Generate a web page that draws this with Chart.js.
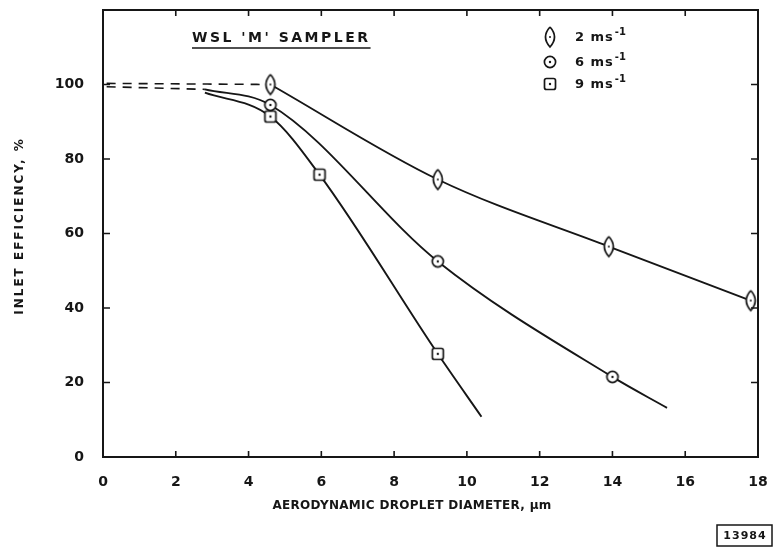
<!DOCTYPE html>
<html lang="en">
<head>
<meta charset="UTF-8">
<title>WSL 'M' Sampler - inlet efficiency</title>
<script src="https://cdn.jsdelivr.net/npm/chart.js"></script>
<style>
    html, body { margin: 0; padding: 0; background: #fff; }
</style>
</head>
<body>
<canvas id="chart" width="774" height="551"></canvas>
<script>
// measured points (aerodynamic droplet diameter in um, inlet efficiency in %)
const diam2 = [4.6, 9.2, 13.9, 17.8];
const eff2 = [100, 74.5, 56.5, 42];
const diam6 = [4.6, 9.2, 14.0];
const eff6 = [94.5, 52.5, 21.5];
const diam9 = [4.6, 5.95, 9.2];
const eff9 = [91.4, 75.8, 27.7];

// hand-drawn fitted curves
const curve6X = [2.8, 4.6, 9.2, 14.0, 15.5];
const curve6Y = [98.7, 94.5, 52.5, 21.5, 13.2];
const curve9X = [2.8, 4.6, 5.95, 9.2, 10.4];
const curve9Y = [97.8, 91.4, 75.8, 27.7, 10.8];

// dashed extrapolation back to small droplets
const dashTopX = [0.1, 4.6];
const dashTopY = [100.3, 100];
const dashLowX = [0.1, 2.8];
const dashLowY = [99.4, 98.7];

const xTicks = [0, 2, 4, 6, 8, 10, 12, 14, 16, 18];
const yTicks = [0, 20, 40, 60, 80, 100];

const seriesLabels = ['2 ms', '6 ms', '9 ms'];

const INK = '#161616';
const FONT = "'DejaVu Sans', sans-serif";

const pts = (xs, ys) => xs.map((x, i) => ({ x: x, y: ys[i] }));

// little marker sprites
function sprite(w, h, draw) {
    const c = document.createElement('canvas');
    c.width = w; c.height = h;
    const g = c.getContext('2d');
    g.strokeStyle = INK;
    g.fillStyle = '#fff';
    g.lineWidth = 1.7;
    draw(g, w / 2, h / 2);
    return c;
}
const lensMark = sprite(14, 24, (g, cx, cy) => {
    g.beginPath();
    g.moveTo(cx, 2);
    g.quadraticCurveTo(cx + 9, cy, cx, 22);
    g.quadraticCurveTo(cx - 9, cy, cx, 2);
    g.fill(); g.stroke();
    g.fillStyle = INK;
    g.beginPath(); g.arc(cx, cy, 1, 0, Math.PI * 2); g.fill();
});
const circleMark = sprite(16, 16, (g, cx, cy) => {
    g.beginPath(); g.arc(cx, cy, 5.6, 0, Math.PI * 2);
    g.fill(); g.stroke();
    g.fillStyle = INK;
    g.beginPath(); g.arc(cx, cy, 1.2, 0, Math.PI * 2); g.fill();
});
const squareMark = sprite(16, 16, (g, cx, cy) => {
    g.beginPath(); g.roundRect(2.5, 2.5, 11, 11, 2);
    g.fill(); g.stroke();
    g.fillStyle = INK;
    g.beginPath(); g.arc(cx, cy, 1.2, 0, Math.PI * 2); g.fill();
});
const marks = [lensMark, circleMark, squareMark];

function lineSet(data, dashed) {
    return {
        data: data,
        showLine: true,
        borderColor: INK,
        borderWidth: dashed ? 1.6 : 1.9,
        borderDash: dashed ? [9, 7] : [],
        pointRadius: 0,
        cubicInterpolationMode: 'monotone'
    };
}
function markSet(data, mark) {
    return {
        data: data,
        showLine: false,
        pointStyle: mark,
        pointRadius: 6,
        clip: 0
    };
}

// scales keep exactly the box they are given, no room reserved for overhanging labels
function fixBox(s, size) {
    if (s.isHorizontal()) s.height = size; else s.width = size;
    s.paddingTop = 0; s.paddingBottom = 0;
    s.paddingLeft = 0; s.paddingRight = 0;
}

// frame, inward ticks, titles, key and drawing number
const decorations = {
    id: 'decorations',
    afterDraw(chart) {
        const ctx = chart.ctx;
        const { left, right, top, bottom } = chart.chartArea;
        const xs = chart.scales.x, ys = chart.scales.y;
        ctx.save();
        ctx.strokeStyle = INK;
        ctx.fillStyle = INK;
        ctx.lineWidth = 2;
        ctx.strokeRect(left, top, right - left, bottom - top);

        ctx.lineWidth = 1.6;
        ctx.beginPath();
        xTicks.slice(1, -1).forEach(v => {
            const px = xs.getPixelForValue(v);
            ctx.moveTo(px, bottom); ctx.lineTo(px, bottom - 6);
            ctx.moveTo(px, top); ctx.lineTo(px, top + 6);
        });
        yTicks.slice(1).forEach(v => {
            const py = ys.getPixelForValue(v);
            ctx.moveTo(left, py); ctx.lineTo(left + 7, py);
            ctx.moveTo(right, py); ctx.lineTo(right - 7, py);
        });
        ctx.stroke();

        // axis titles
        ctx.textBaseline = 'middle';
        ctx.textAlign = 'center';
        ctx.font = 'bold 12px ' + FONT;
        ctx.letterSpacing = '0.3px';
        ctx.fillText('AERODYNAMIC DROPLET DIAMETER, \u03bcm', 412, 506);

        ctx.save();
        ctx.translate(20, 226);
        ctx.rotate(-Math.PI / 2);
        ctx.letterSpacing = '2px';
        ctx.fillText('INLET EFFICIENCY, %', 0, 0);
        ctx.restore();

        // plot heading, underlined
        ctx.textAlign = 'left';
        ctx.font = 'bold 14px ' + FONT;
        ctx.letterSpacing = '2.5px';
        const head = "WSL 'M' SAMPLER";
        ctx.fillText(head, 192, 38);
        const hw = ctx.measureText(head).width;
        ctx.lineWidth = 1.5;
        ctx.beginPath();
        ctx.moveTo(192, 48); ctx.lineTo(192 + hw, 48);
        ctx.stroke();

        // key
        const keyY = [37, 62, 84];
        seriesLabels.forEach((t, i) => {
            const m = marks[i];
            ctx.drawImage(m, 550 - m.width / 2, keyY[i] - m.height / 2);
            ctx.font = 'bold 13px ' + FONT;
            ctx.letterSpacing = '1px';
            ctx.fillText(t, 575, keyY[i] + 1);
            const w = ctx.measureText(t).width;
            ctx.font = 'bold 10px ' + FONT;
            ctx.letterSpacing = '0px';
            ctx.fillText('-1', 575 + w + 1, keyY[i] - 5);
        });

        // drawing number
        ctx.lineWidth = 1.5;
        ctx.strokeRect(717, 525, 55, 21);
        ctx.textAlign = 'center';
        ctx.font = 'bold 11px ' + FONT;
        ctx.letterSpacing = '1px';
        ctx.fillText('13984', 745, 536);
        ctx.restore();
    }
};

const tickFont = { family: FONT, size: 14, weight: 'bold' };

new Chart(document.getElementById('chart'), {
    type: 'scatter',
    data: {
        datasets: [
            markSet(pts(diam2, eff2), lensMark),
            markSet(pts(diam6, eff6), circleMark),
            markSet(pts(diam9, eff9), squareMark),
            lineSet(pts(diam2, eff2), false),
            lineSet(pts(curve6X, curve6Y), false),
            lineSet(pts(curve9X, curve9Y), false),
            lineSet(pts(dashTopX, dashTopY), true),
            lineSet(pts(dashLowX, dashLowY), true)
        ]
    },
    options: {
        responsive: false,
        animation: false,
        devicePixelRatio: 1,
        layout: { padding: { top: 10, right: 16, left: 0, bottom: 0 } },
        plugins: {
            legend: { display: false },
            tooltip: { enabled: false }
        },
        scales: {
            x: {
                type: 'linear',
                min: 0,
                max: 18,
                afterBuildTicks: s => { s.ticks = xTicks.map(v => ({ value: v })); },
                afterFit: s => fixBox(s, 94),
                grid: { display: false, drawTicks: false },
                border: { display: false },
                ticks: { font: tickFont, color: INK, padding: 17, maxRotation: 0, autoSkip: false }
            },
            y: {
                type: 'linear',
                min: 0,
                max: 120,
                afterBuildTicks: s => { s.ticks = yTicks.map(v => ({ value: v })); },
                afterFit: s => fixBox(s, 103),
                grid: { display: false, drawTicks: false },
                border: { display: false },
                ticks: { font: tickFont, color: INK, padding: 19 }
            }
        }
    },
    plugins: [decorations]
});
</script>
</body>
</html>
